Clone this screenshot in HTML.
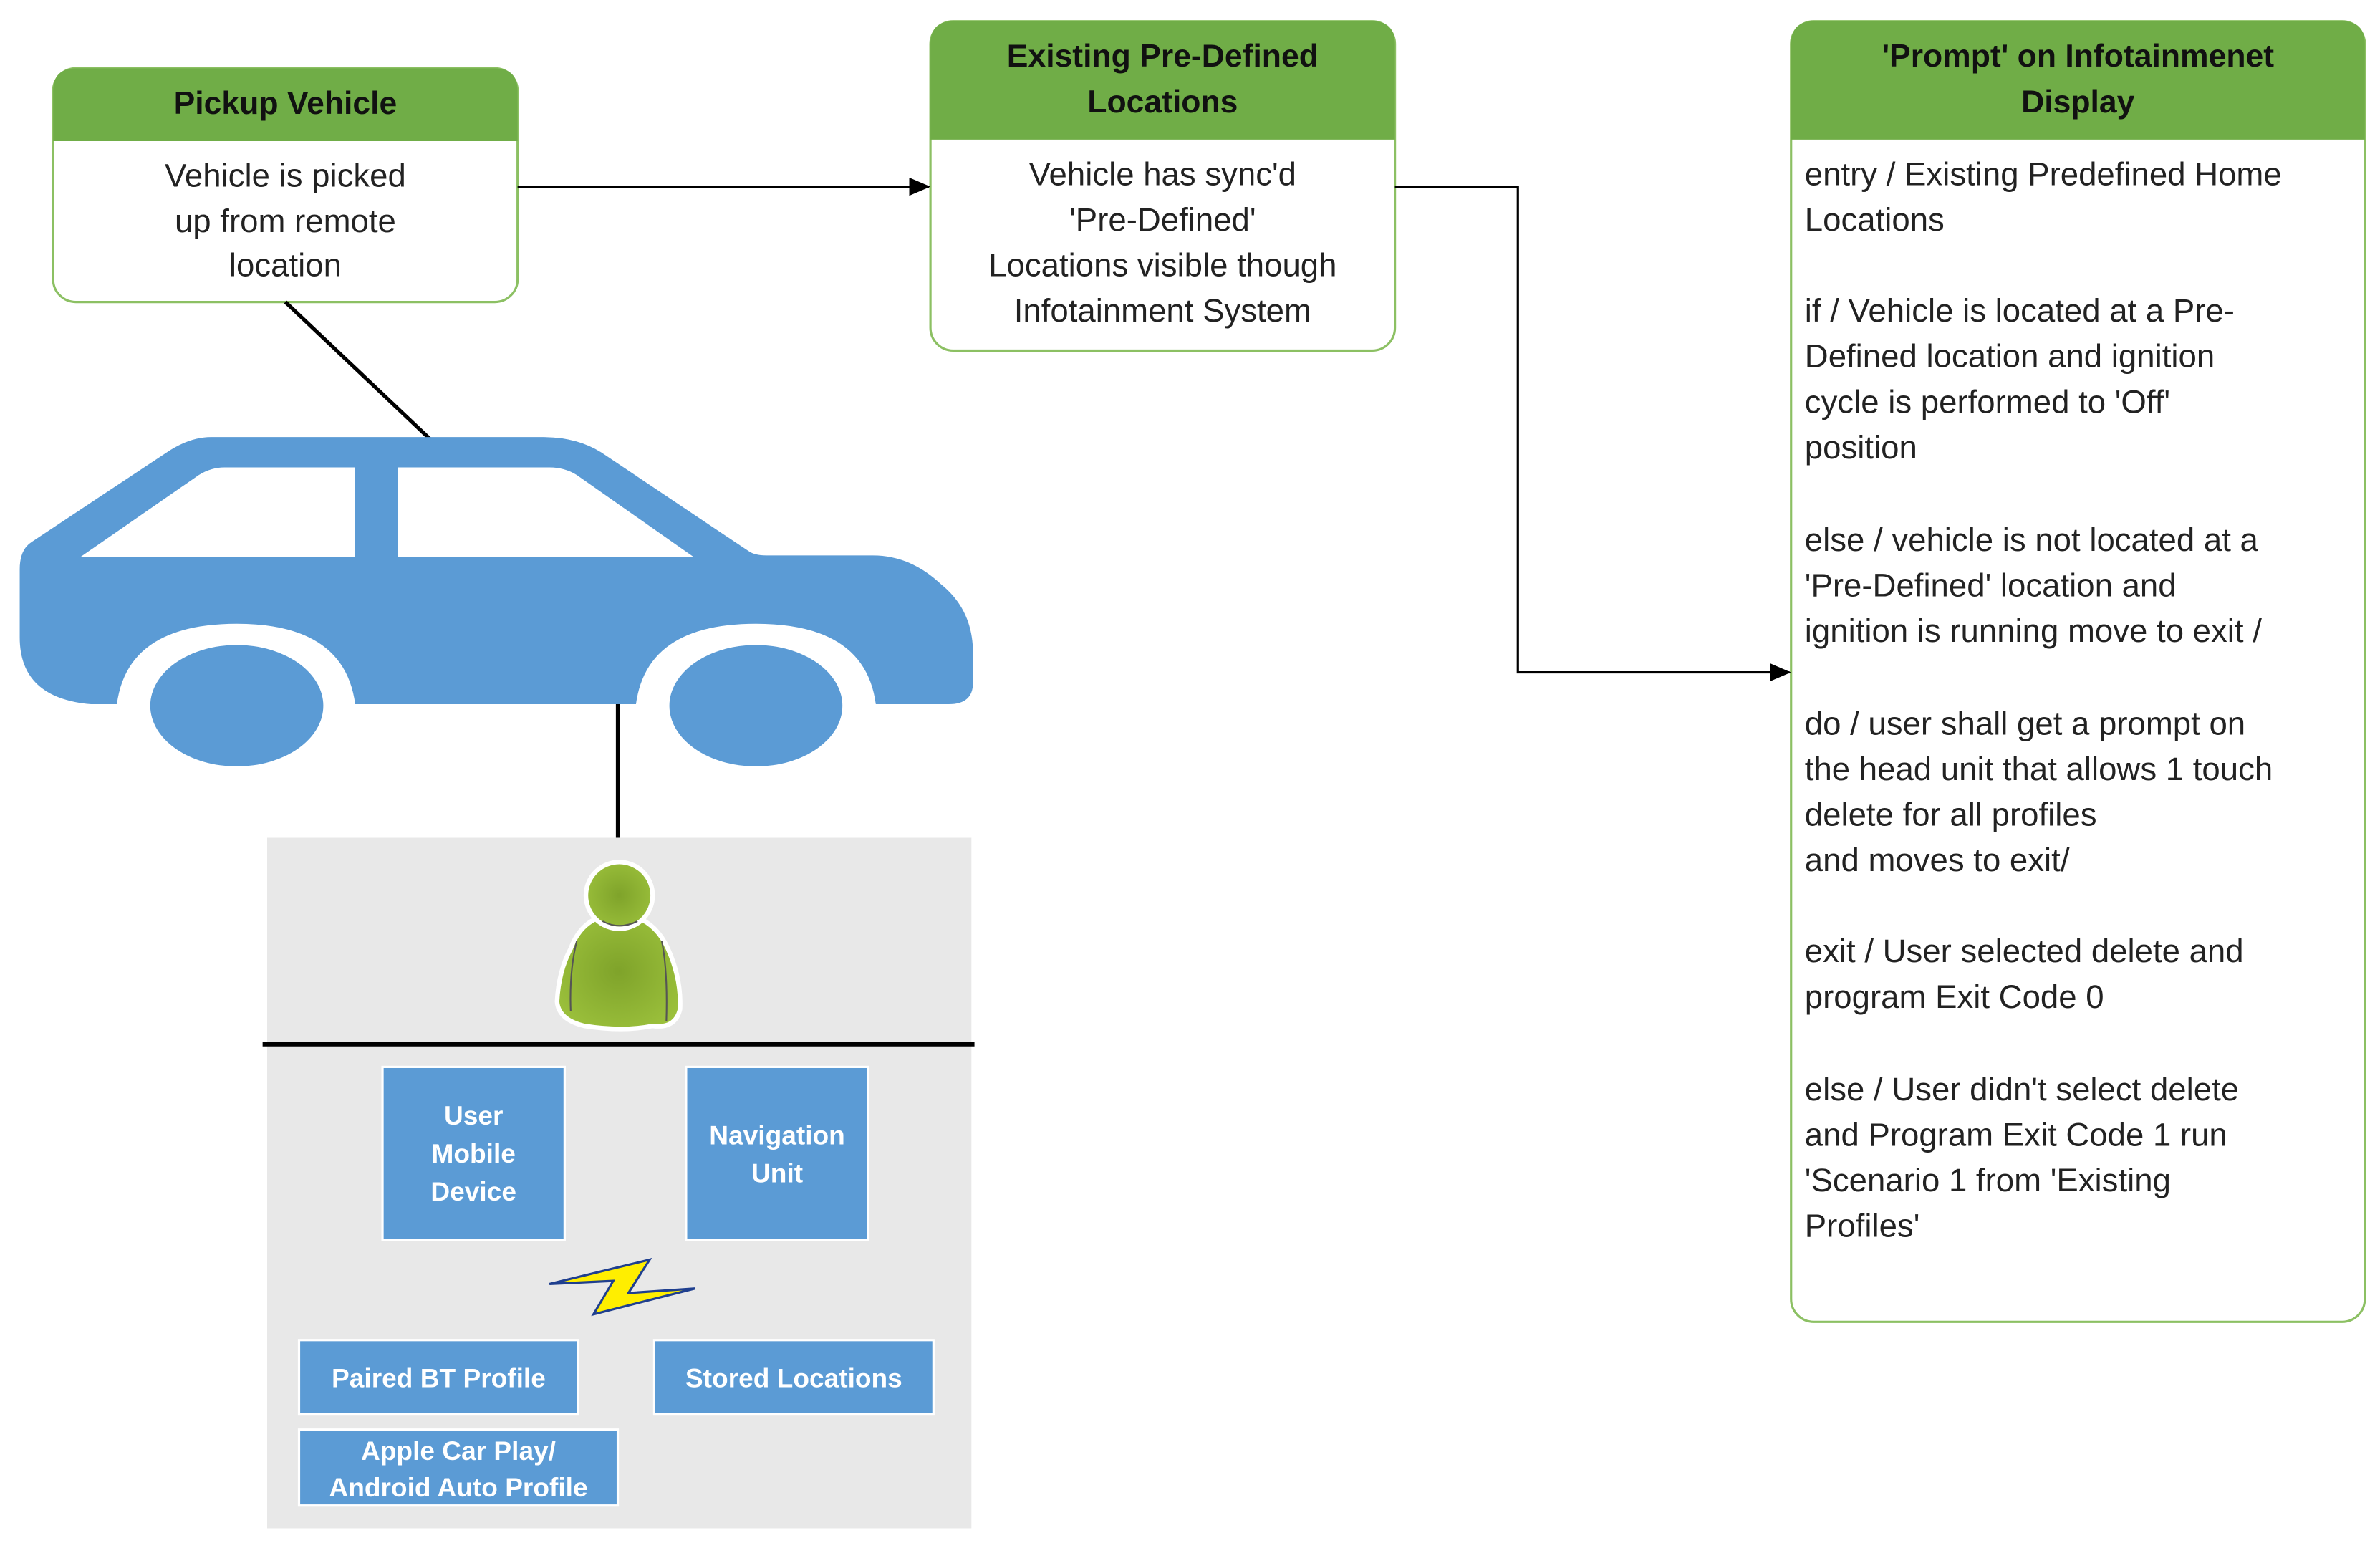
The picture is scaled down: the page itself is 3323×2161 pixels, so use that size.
<!DOCTYPE html>
<html><head><meta charset="utf-8"><style>
html,body{margin:0;padding:0;background:#fff;width:3323px;height:2161px;overflow:hidden}
svg{display:block}
text{font-family:"Liberation Sans",sans-serif}
.t{font-size:21.5px;fill:#222}
.h{font-size:21px;font-weight:bold;fill:#111}
.w{font-size:17.5px;font-weight:bold;fill:#fff}
</style></head><body>
<svg width="3323" height="2161" viewBox="0 0 1568 1020" xmlns="http://www.w3.org/2000/svg" preserveAspectRatio="none">
<defs>
<marker id="ar" markerWidth="14" markerHeight="12" refX="13" refY="6" orient="auto" markerUnits="userSpaceOnUse"><path d="M0,0 L14,6 L0,12 Z" fill="#000"/></marker>
<radialGradient id="pg" cx="0.5" cy="0.5" r="0.6"><stop offset="0" stop-color="#7fa32a"/><stop offset="1" stop-color="#9cc13c"/></radialGradient>
</defs>
<!-- Pickup box -->
<rect x="35" y="45" width="306" height="154" rx="15" fill="#fff" stroke="#8cc063" stroke-width="1.5"/>
<path d="M35,93 V60 Q35,45 50,45 H326 Q341,45 341,60 V93 Z" fill="#70ad47"/>
<text class="h" x="188" y="75" text-anchor="middle">Pickup Vehicle</text>
<text class="t" x="188" y="123" text-anchor="middle">Vehicle is picked</text>
<text class="t" x="188" y="153" text-anchor="middle">up from remote</text>
<text class="t" x="188" y="182" text-anchor="middle">location</text>
<!-- Existing box -->
<rect x="613" y="14" width="306" height="217" rx="15" fill="#fff" stroke="#8cc063" stroke-width="1.5"/>
<path d="M613,92 V29 Q613,14 628,14 H904 Q919,14 919,29 V92 Z" fill="#70ad47"/>
<text class="h" x="766" y="44" text-anchor="middle">Existing Pre-Defined</text>
<text class="h" x="766" y="74" text-anchor="middle">Locations</text>
<text class="t" x="766" y="122" text-anchor="middle">Vehicle has sync'd</text>
<text class="t" x="766" y="152" text-anchor="middle">'Pre-Defined'</text>
<text class="t" x="766" y="182" text-anchor="middle">Locations visible though</text>
<text class="t" x="766" y="212" text-anchor="middle">Infotainment System</text>
<!-- Prompt box -->
<rect x="1180" y="14" width="378" height="857" rx="15" fill="#fff" stroke="#8cc063" stroke-width="1.5"/>
<path d="M1180,92 V29 Q1180,14 1195,14 H1543 Q1558,14 1558,29 V92 Z" fill="#70ad47"/>
<text class="h" x="1369" y="44" text-anchor="middle">'Prompt' on Infotainmenet</text>
<text class="h" x="1369" y="74" text-anchor="middle">Display</text>
<text class="t" x="1189" y="122">entry / Existing Predefined Home</text>
<text class="t" x="1189" y="152">Locations</text>
<text class="t" x="1189" y="212">if /  Vehicle is located at a Pre-</text>
<text class="t" x="1189" y="242">Defined location and ignition</text>
<text class="t" x="1189" y="272">cycle is performed to 'Off'</text>
<text class="t" x="1189" y="302">position</text>
<text class="t" x="1189" y="363">else / vehicle is not located at a</text>
<text class="t" x="1189" y="393">'Pre-Defined' location and</text>
<text class="t" x="1189" y="423">ignition is running move to exit /</text>
<text class="t" x="1189" y="484">do / user shall get a prompt on</text>
<text class="t" x="1189" y="514">the head unit that allows 1 touch</text>
<text class="t" x="1189" y="544">delete for all profiles</text>
<text class="t" x="1189" y="574">and moves to exit/</text>
<text class="t" x="1189" y="634">exit / User selected delete and</text>
<text class="t" x="1189" y="664">program Exit Code 0</text>
<text class="t" x="1189" y="725">else / User didn't select delete</text>
<text class="t" x="1189" y="755">and Program Exit Code 1 run</text>
<text class="t" x="1189" y="785">'Scenario 1 from 'Existing</text>
<text class="t" x="1189" y="815">Profiles'</text>
<!-- connectors -->
<line x1="341" y1="123" x2="612" y2="123" stroke="#000" stroke-width="1.5" marker-end="url(#ar)"/>
<polyline points="919,123 1000,123 1000,443 1179,443" fill="none" stroke="#000" stroke-width="1.5" marker-end="url(#ar)"/>
<line x1="188" y1="199" x2="283" y2="289" stroke="#000" stroke-width="2.5"/>
<!-- car -->
<path d="M139,288 H358 Q380,288 396,298 L493,363 Q497,366 505,366 H575 Q600,366 620,385 Q641,402 641,430 V450 Q641,464 625,464 H577 Q570,411 498,411 Q426,411 419,464 H234 Q227,411 156,411 Q84,411 77,464 H60 Q13,460 13,420 V375 Q13,362 21,357 L110,298 Q125,288 139,288 Z" fill="#5b9bd5"/>
<path d="M53,367 L131,313 Q139,308 148,308 H234 V367 Z" fill="#fff"/>
<path d="M262,308 H362 Q372,308 380,313 L457,367 H262 Z" fill="#fff"/>
<ellipse cx="156" cy="465" rx="57" ry="40" fill="#5b9bd5"/>
<ellipse cx="498" cy="465" rx="57" ry="40" fill="#5b9bd5"/>
<line x1="407" y1="464" x2="407" y2="552" stroke="#000" stroke-width="2.5"/>
<!-- gray panel -->
<rect x="176" y="552" width="464" height="455" fill="#e8e8e8"/>
<line x1="173" y1="688" x2="642" y2="688" stroke="#000" stroke-width="3"/>
<!-- person -->
<g stroke="#fff" stroke-width="3">
<path d="M376,625 Q384,603 407,602 Q430,603 440,625 Q449,645 448,665 Q445,678 430,676 Q410,680 385,676 Q368,672 367,660 Q368,640 376,625 Z" fill="url(#pg)"/>
<circle cx="408" cy="590" r="22" fill="url(#pg)"/>
</g>
<path d="M397,607 Q408,613 420,607" stroke="#555" stroke-width="1" fill="none"/>
<path d="M380,620 Q375,640 376,666" stroke="#555" stroke-width="1" fill="none"/>
<path d="M436,620 Q440,640 439,673" stroke="#555" stroke-width="1" fill="none"/>
<!-- boxes -->
<g fill="#5b9bd5" stroke="#fff" stroke-width="1.5">
<rect x="252" y="703" width="120" height="114"/>
<rect x="452" y="703" width="120" height="114"/>
<rect x="197" y="883" width="184" height="49"/>
<rect x="431" y="883" width="184" height="49"/>
<rect x="197" y="942" width="210" height="50"/>
</g>
<text class="w" x="312" y="741" text-anchor="middle">User</text>
<text class="w" x="312" y="766" text-anchor="middle">Mobile</text>
<text class="w" x="312" y="791" text-anchor="middle">Device</text>
<text class="w" x="512" y="754" text-anchor="middle">Navigation</text>
<text class="w" x="512" y="779" text-anchor="middle">Unit</text>
<text class="w" x="289" y="914" text-anchor="middle">Paired BT Profile</text>
<text class="w" x="523" y="914" text-anchor="middle">Stored Locations</text>
<text class="w" x="302" y="962" text-anchor="middle">Apple Car Play/</text>
<text class="w" x="302" y="986" text-anchor="middle">Android Auto Profile</text>
<!-- lightning -->
<path d="M362,846 L428,830 L414,852 L458,849 L391,866 L404,844 Z" fill="#ffee00" stroke="#1f3f8f" stroke-width="1.5"/>
</svg>
</body></html>
